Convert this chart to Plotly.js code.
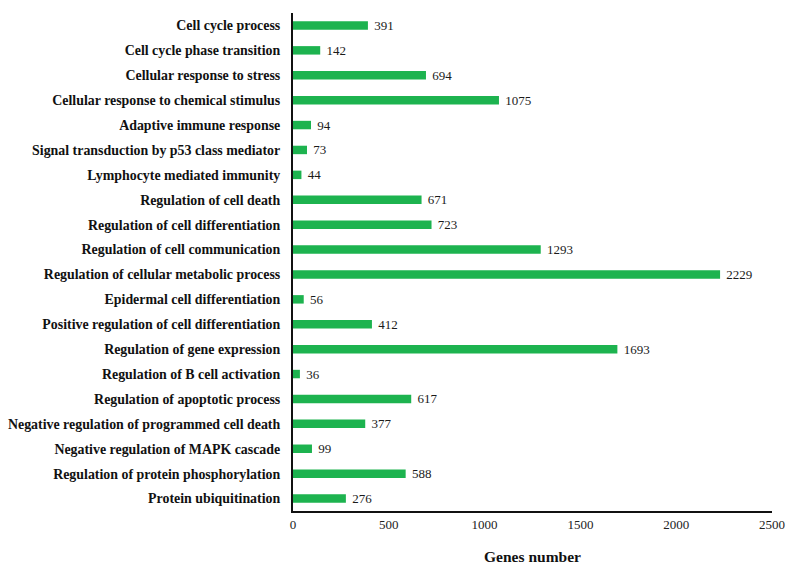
<!DOCTYPE html>
<html>
<head>
<meta charset="utf-8">
<script src="https://cdn.plot.ly/plotly-3.0.1.min.js"></script>
<style>html,body{margin:0;padding:0;background:#fff;}#chart{width:800px;height:573px;}</style>
</head>
<body>
<div id="chart"></div>
<script>
const categories = [
  "Cell cycle process",
  "Cell cycle phase transition",
  "Cellular response to stress",
  "Cellular response to chemical stimulus",
  "Adaptive immune response",
  "Signal transduction by p53 class mediator",
  "Lymphocyte mediated immunity",
  "Regulation of cell death",
  "Regulation of cell differentiation",
  "Regulation of cell communication",
  "Regulation of cellular metabolic process",
  "Epidermal cell differentiation",
  "Positive regulation of cell differentiation",
  "Regulation of gene expression",
  "Regulation of B cell activation",
  "Regulation of apoptotic process",
  "Negative regulation of programmed cell death",
  "Negative regulation of MAPK cascade",
  "Regulation of protein phosphorylation",
  "Protein ubiquitination"
];
const genes = [391,142,694,1075,94,73,44,671,723,1293,2229,56,412,1693,36,617,377,99,588,276];
const xTicks = [0,500,1000,1500,2000,2500];

const trace = {
  type: 'bar',
  orientation: 'h',
  y: categories,
  x: genes,
  width: 0.34,
  marker: {color: '#1db34f'},
  text: genes.map(v => '\u00a0' + v),
  textposition: 'outside',
  constraintext: 'none',
  cliponaxis: false,
  textfont: {family: 'Liberation Serif, Times New Roman, serif', size: 13, color: '#1a1a1a'},
  outsidetextfont: {family: 'Liberation Serif, Times New Roman, serif', size: 13, color: '#1a1a1a'}
};

const layout = {
  width: 800, height: 573,
  margin: {l: 293, r: 28, t: 13, b: 62},
  paper_bgcolor: '#fff', plot_bgcolor: '#fff',
  showlegend: false,
  font: {family: 'Liberation Serif, Times New Roman, serif', color: '#111'},
  xaxis: {
    range: [0, 2500], tickvals: xTicks, ticktext: xTicks.map(String),
    showgrid: false, zeroline: false, showline: true, linecolor: '#111', linewidth: 2,
    ticks: '', tickfont: {size: 13, color: '#222'},
    title: {text: '<b>Genes number</b>', font: {size: 15.5, color: '#111'}, standoff: 21}
  },
  yaxis: {
    autorange: 'reversed', type: 'category',
    showgrid: false, zeroline: false, showline: true, linecolor: '#111', linewidth: 2,
    ticks: '', ticklabelstandoff: 8,
    tickfont: {size: 13.9, color: '#111', weight: 'bold'}
  }
};

Plotly.newPlot('chart', [trace], layout, {displayModeBar: false, staticPlot: true});
</script>
</body>
</html>
